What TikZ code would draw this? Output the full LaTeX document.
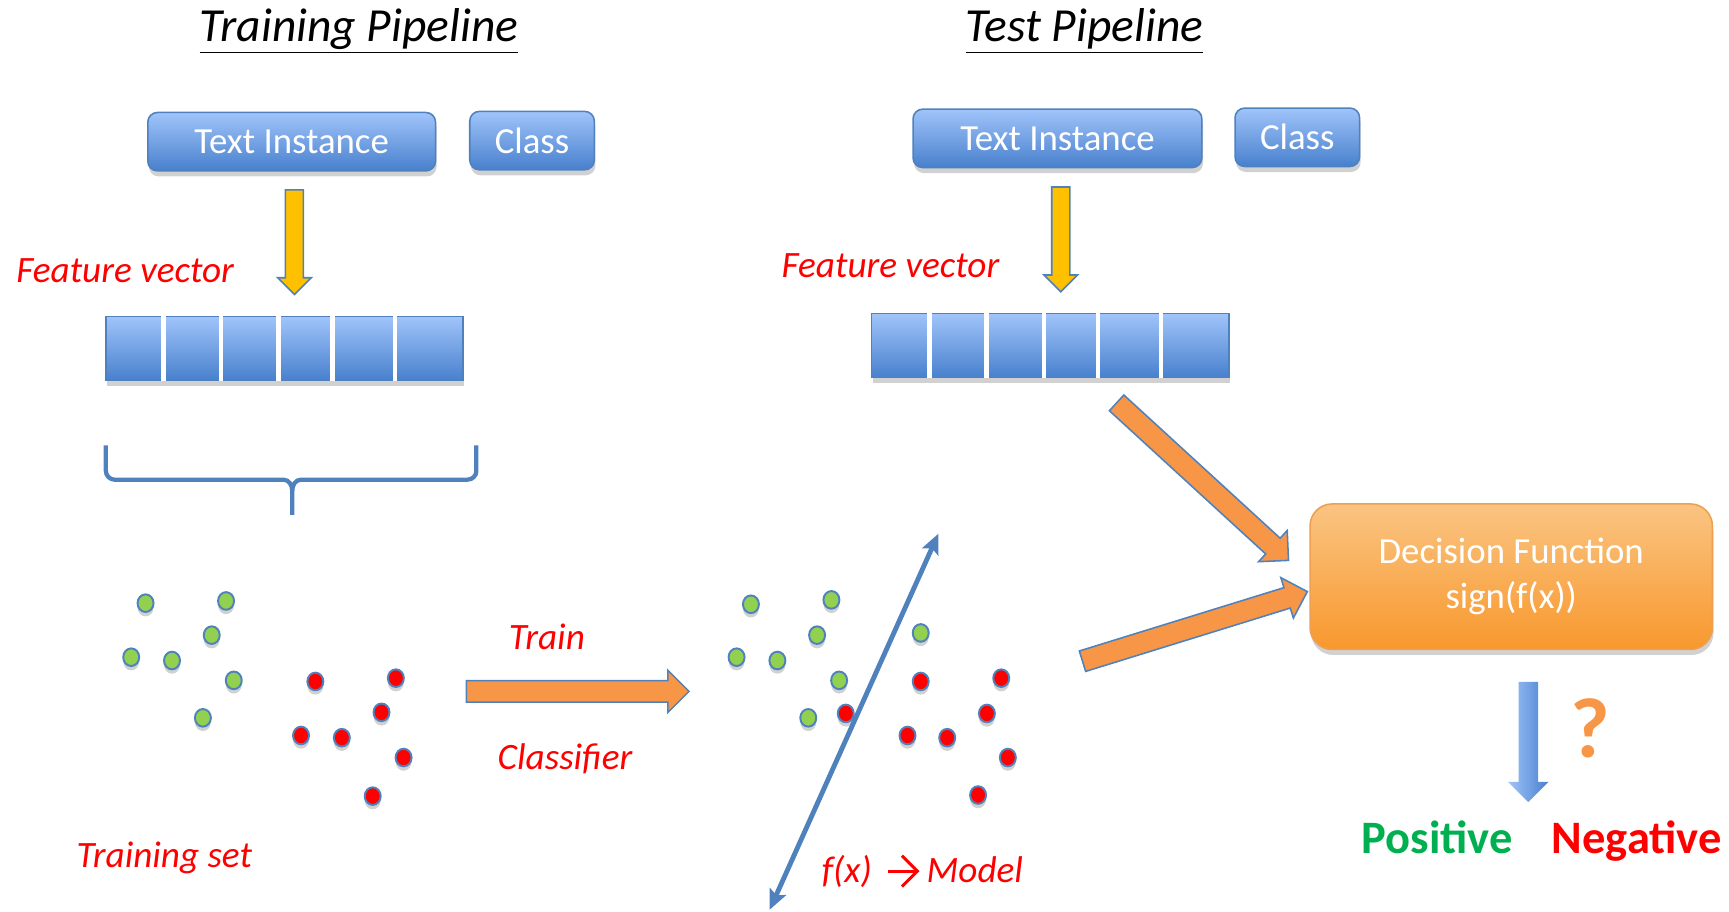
\documentclass[tikz,border=0pt]{standalone}
\usepackage{fontspec}
\setmainfont{Carlito}
\usepackage{xcolor}
\usepackage{tikz}
\usetikzlibrary{arrows.meta, positioning, shapes.geometric, shapes.arrows, shadows, calc}
\definecolor{inkblue}{RGB}{79, 129, 189}
\definecolor{boxtop}{RGB}{160, 196, 250}
\definecolor{boxbot}{RGB}{72, 128, 205}
\definecolor{fillorange}{RGB}{247, 150, 70}
\definecolor{fillyellow}{RGB}{255, 192, 0}
\definecolor{dotgreen}{RGB}{146, 208, 80}
\definecolor{decitop}{RGB}{250, 196, 130}
\definecolor{decibot}{RGB}{248, 152, 45}
\definecolor{deciline}{RGB}{236, 160, 80}
\definecolor{posgreen}{RGB}{0, 176, 80}
\newcommand{\fsz}[1]{\fontsize{#1}{1.2\dimexpr#1\relax}\selectfont}
\tikzset{
    softshadow/.style={drop shadow={shadow xshift=0.02cm, shadow yshift=-0.1cm,
                       opacity=0.18, fill=black}},
    ttl/.style   ={font=\fsz{24.5pt}\itshape, anchor=base, inner sep=0pt},
    blk/.style   ={draw=inkblue, line width=0.8pt, rounded corners=5pt,
                   top color=boxtop, bottom color=boxbot, text=white,
                   font=\fsz{19pt}, minimum height=1.06cm, softshadow},
    vec/.style   ={draw=inkblue, line width=0.8pt, top color=boxtop,
                   bottom color=boxbot, minimum width=6.48cm,
                   minimum height=1.16cm, softshadow},
    cut/.style   ={white, line width=2.4pt},
    lbl/.style   ={text=red, font=\fsz{19.2pt}\itshape, anchor=base, inner sep=0pt},
    dot/.style   ={ellipse, draw=inkblue, line width=1pt, minimum width=0.29cm,
                   minimum height=0.32cm, inner sep=0pt,
                   drop shadow={shadow xshift=0cm, shadow yshift=-0.08cm,
                   opacity=0.18, fill=black}},
    gdot/.style  ={dot, fill=dotgreen},
    rdot/.style  ={dot, fill=red},
    fatarr/.style={single arrow, draw=inkblue, line width=0.8pt, fill=fillorange,
                   inner sep=0pt, inner ysep=0.18cm, minimum width=0.74cm,
                   single arrow head extend=0.19cm},
    downarr/.style={single arrow, draw=inkblue, line width=0.8pt, fill=fillyellow,
                   inner sep=0pt, inner ysep=0.15cm, minimum width=0.58cm,
                   single arrow head extend=0.14cm, rotate=-90},
    outarr/.style={single arrow, draw=none, left color=boxtop, right color=boxbot,
                   inner sep=0pt, inner ysep=0.17cm, minimum width=0.72cm,
                   single arrow head extend=0.19cm, rotate=-90},
    deci/.style  ={draw=deciline, line width=0.8pt, rounded corners=0.4cm,
                   top color=decitop, bottom color=decibot, text=white,
                   align=center, font=\fontsize{19pt}{23.3pt}\selectfont,
                   minimum width=7.3cm, minimum height=2.64cm, softshadow},
    sepline/.style={draw=inkblue, line width=2.5pt,
                   {Stealth[length=3.6mm, width=3.2mm, inset=0.7mm]}-{Stealth[length=3.6mm, width=3.2mm, inset=0.7mm]}},
    modarrow/.style={draw=red, line width=1.6pt,
                   -{Straight Barb[length=2.8mm, width=5.6mm]}},
    brace/.style ={draw=inkblue, line width=2.2pt},
    result/.style={font=\fsz{24pt}\bfseries, anchor=base, inner sep=0pt}
}

\begin{document}
\begin{tikzpicture}[x=0.02cm, y=-0.02cm]
  \useasboundingbox (0,0) rectangle (1568,827);

  \node[ttl] (trtitle) at (325.5,38) {\underline{Training Pipeline}};
  \node[ttl] (tetitle) at (983.5,38) {\underline{Test Pipeline}};

  \node[blk, minimum width=5.22cm] (trtext)  at (264.5,128.5) {Text Instance};
  \node[blk, minimum width=2.26cm] (trclass) at (482.5,127.5) {Class};
  \node[blk, minimum width=5.24cm] (tetext)  at (959,125.5) {Text Instance};
  \node[blk, minimum width=2.26cm] (teclass) at (1176.5,124.5) {Class};

  \node[downarr, minimum height=1.9cm] (trdown) at (267,215.5) {};
  \node[downarr, minimum height=1.9cm] (tedown) at (962,213) {};

  \node[lbl] (trfeat) at (113.5,256) {Feature vector};
  \node[lbl] (tefeat) at (807.5,252) {Feature vector};

  \node[vec] (trvec) at (258,316) {};
  \node[vec] (tevec) at (952.5,313.5) {};
  \foreach \d in {53,105,157,206,263} {
    \draw[cut] ($(trvec.north west)+(\d,0)$) -- ($(trvec.south west)+(\d,0)$);
    \draw[cut] ($(tevec.north west)+(\d,0)$) -- ($(tevec.south west)+(\d,0)$);
  }

  \draw[brace] (96,404) -- (96,427) to[out=-90, in=180] (104,435) -- (257,435)
       to[out=0, in=90] (265,445) -- (265,467);
  \draw[brace] (432,404) -- (432,427) to[out=-90, in=0] (424,435) -- (273,435)
       to[out=180, in=90] (265,445);

  \foreach \x/\y [count=\i] in {132/547, 205/545, 192/576, 119/596, 156/599, 212/617, 184/651}
    \node[gdot] (trg\i) at (\x,\y) {};
  \foreach \x/\y [count=\i] in {286/618, 359/615, 346/646, 273/667, 310/669, 366/687, 338/722}
    \node[rdot] (trr\i) at (\x,\y) {};
  \node[lbl] (trset) at (149,787) {Training set};

  \node[fatarr, minimum height=4.04cm] (trainarr) at (519,627) {};
  \node[lbl] (trainlbl) at (496,589) {Train};
  \node[lbl] (clflbl) at (512.5,698) {Classifier};

  \foreach \x/\y [count=\i] in {681/548, 754/544, 741/576, 668/596, 705/599, 761/617, 733/651, 835/574}
    \node[gdot] (teg\i) at (\x,\y) {};
  \foreach \x/\y [count=\i] in {767/647, 835/618, 908/615, 895/647, 823/667, 859/669, 914/687, 887/721}
    \node[rdot] (ter\i) at (\x,\y) {};
  \coordinate (sepbot) at (698,825);
  \coordinate (septop) at (851,484);
  \draw[sepline] (sepbot) -- (septop);
  \node[lbl] (fx) at (768,800) {f(x)};
  \node[lbl] (mdl) at (884,800) {Model};
  \draw[modarrow] ($(fx.base east)+(14,-10)$) -- ($(mdl.base west)+(-6,-10)$);

  \node[deci] (dec) at (1370.5,523) {Decision Function\\sign(f(x))};
  \node[fatarr, minimum height=4.23cm, rotate=-42.5] (vecarr) at (1087,433.5) {};
  \node[fatarr, minimum height=4.27cm, rotate=17.2] (modarr) at (1079,569.5) {};

  \node[outarr, minimum height=2.18cm] (outdown) at (1386,668.5) {};
  \node[text=fillorange, font=\fsz{44pt}\bfseries, anchor=base, inner sep=0pt] (qmark) at (1442,687) {?};
  \node[result, text=posgreen] (pos) at (1303.5,774) {Positive};
  \node[result, text=red] (neg) at (1484.5,774) {Negative};
\end{tikzpicture}
\end{document}
